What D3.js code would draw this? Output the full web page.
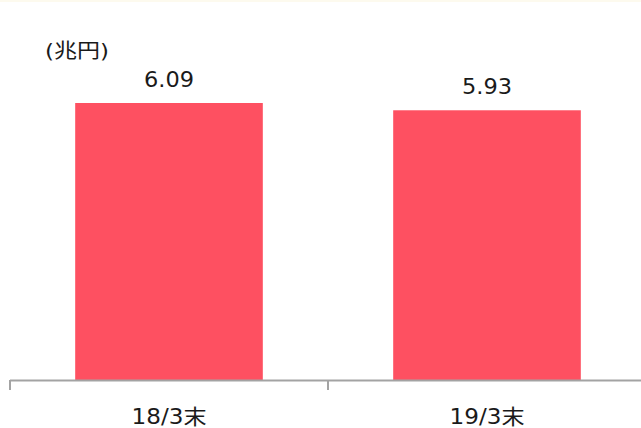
<!DOCTYPE html>
<html>
<head>
<meta charset="utf-8">
<script src="https://cdn.jsdelivr.net/npm/d3@7"></script>
<style>
  html, body { margin: 0; padding: 0; background: #ffffff; }
  svg { display: block; font-family: "DejaVu Sans", "Noto Sans CJK JP", sans-serif; }
</style>
</head>
<body>
<svg id="chart" width="641" height="428"></svg>
<script>
// Balance at fiscal year end (trillion yen)
const categories = ["18/3末", "19/3末"];
const values = [6.09, 5.93];
const valueLabels = ["6.09", "5.93"];
const unitLabel = "(兆円)";

const W = 641, H = 428;
const svg = d3.select("#chart");

// faint band along the top edge
svg.append("rect").attr("x", 0).attr("y", 0).attr("width", W).attr("height", 2).attr("fill", "#fdfaee");

const x = d3.scaleBand().domain(categories).range([10, 646]).paddingInner(0.41).paddingOuter(0.205);
const y = d3.scaleLinear().domain([0, 6.09]).range([380, 103]);

// bars
svg.selectAll("rect.bar").data(values).enter().append("rect")
  .attr("class", "bar")
  .attr("x", (d, i) => x(categories[i]))
  .attr("y", d => y(d))
  .attr("width", x.bandwidth())
  .attr("height", d => y(0) - y(d))
  .attr("fill", "#fe5061");

// category axis with ticks at band boundaries
const axisColor = "#a3a3a3";
const axisG = svg.append("g");
axisG.append("line").attr("x1", 10).attr("x2", W).attr("y1", 380.5).attr("y2", 380.5)
  .attr("stroke", axisColor).attr("stroke-width", 2);
const step = x.step();
const boundaries = categories.map((c, i) => 10 + i * step);
axisG.selectAll("line.tick").data(boundaries).enter().append("line")
  .attr("class", "tick")
  .attr("x1", d => d).attr("x2", d => d)
  .attr("y1", 380).attr("y2", 390)
  .attr("stroke", axisColor).attr("stroke-width", 2);

// text helper: slightly widened glyphs
function label(px, py, txt, size, sx, anchor) {
  svg.append("g").attr("transform", `translate(${px},${py}) scale(${sx},1)`)
    .append("text")
    .attr("text-anchor", anchor)
    .attr("font-size", size)
    .attr("fill", "#1a1a1a")
    .text(txt);
}

categories.forEach(c => label(x(c) + x.bandwidth() / 2, 424, c, 21, 1.1, "middle"));

values.forEach((v, i) => label(x(categories[i]) + x.bandwidth() / 2, y(v) - 16, valueLabels[i], 21, 1.07, "middle"));

// unit label
label(45, 58, unitLabel, 20, 1.15, "start");
</script>
</body>
</html>
